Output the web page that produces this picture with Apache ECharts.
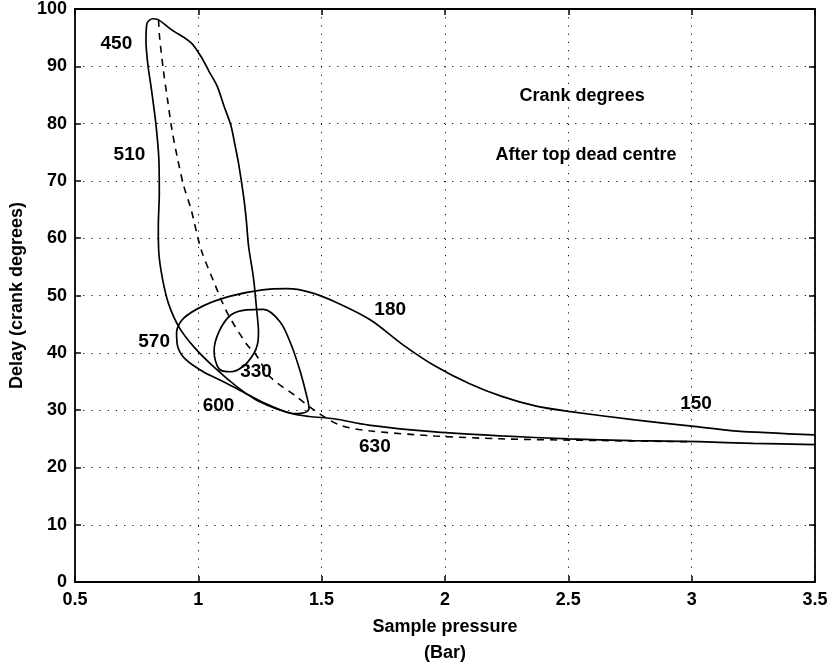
<!DOCTYPE html>
<html>
<head>
<meta charset="utf-8">
<title>Delay vs sample pressure</title>
<script src="https://cdn.jsdelivr.net/npm/echarts@6/dist/echarts.min.js"></script>
<style>
  html, body { margin: 0; padding: 0; background: #fff; }
  #chart { width: 833px; height: 671px; }
</style>
</head>
<body>
<div id="chart"></div>
<script>
// Outer loop: upper tail (150 -> 180), over the top, round the left side and back out along the lower tail
const outerLoop = [
  [3.50, 25.7], [3.17, 26.4], [3.00, 27.2], [2.77, 28.3], [2.50, 29.8], [2.37, 30.7],
  [2.23, 32.4], [2.10, 34.6], [1.96, 37.7], [1.83, 41.4], [1.70, 45.7], [1.56, 48.8],
  [1.45, 50.6], [1.36, 51.2], [1.26, 51.0], [1.13, 49.9], [1.02, 48.2], [0.94, 46.0],
  [0.912, 43.6], [0.918, 40.9], [0.950, 38.8], [1.02, 36.7], [1.10, 35.0], [1.18, 33.2],
  [1.27, 31.2], [1.37, 29.5], [1.45, 28.9], [1.55, 28.5], [1.69, 27.4], [1.96, 26.2],
  [2.23, 25.5], [2.50, 25.0], [2.76, 24.7], [3.03, 24.5], [3.25, 24.2], [3.50, 24.0]
];

// Tall loop (450 / 510) followed by the small inner loop and teardrop (330)
const tallLoop = [
  [1.36, 29.6], [1.30, 30.5], [1.23, 31.9], [1.156, 34.1], [1.064, 37.5], [0.983, 41.0],
  [0.923, 44.4], [0.880, 48.5], [0.855, 52.9], [0.840, 57.5], [0.838, 62.0], [0.842, 68.0],
  [0.840, 74.0], [0.828, 80.0], [0.810, 86.0], [0.795, 90.5], [0.788, 94.5], [0.792, 97.5],
  [0.815, 98.3], [0.839, 98.1], [0.891, 96.4], [0.971, 94.1], [1.011, 91.7], [1.045, 89.0],
  [1.076, 86.6], [1.105, 83.0], [1.132, 79.7], [1.150, 76.0], [1.164, 72.9], [1.184, 67.2],
  [1.195, 63.0], [1.204, 58.6], [1.224, 53.0], [1.236, 47.8], [1.244, 43.7], [1.240, 41.5],
  [1.224, 39.8], [1.184, 37.7], [1.132, 36.7], [1.084, 37.2], [1.064, 40.3], [1.084, 43.7],
  [1.132, 46.6], [1.196, 47.5], [1.264, 47.6], [1.332, 45.4], [1.376, 41.5], [1.413, 36.8],
  [1.437, 32.9], [1.449, 30.3], [1.433, 29.6], [1.39, 29.4], [1.34, 29.9]
];

// Dashed mean path
const meanPath = [
  [0.839, 98.1], [0.843, 95.2], [0.858, 89.5], [0.875, 84.3], [0.893, 79.0], [0.915, 74.1],
  [0.940, 69.3], [0.971, 65.0], [1.011, 58.1], [1.064, 52.3], [1.116, 47.1], [1.196, 41.5],
  [1.232, 39.8], [1.292, 35.8], [1.397, 32.4], [1.477, 29.8], [1.573, 27.4], [1.693, 26.4],
  [1.958, 25.5], [2.227, 25.0], [2.628, 24.7], [2.989, 24.5]
];

const xTickLabels = ['0.5', '1', '1.5', '2', '2.5', '3', '3.5'];
const yTickLabels = ['0', '10', '20', '30', '40', '50', '60', '70', '80', '90', '100'];
const crankAngles = ['150', '180', '330', '450', '510', '570', '600', '630'];

const FONT = '"Liberation Sans", Arial, Helvetica, sans-serif';

const chart = echarts.init(document.getElementById('chart'), null, { renderer: 'canvas' });

const gridLine = { show: true, lineStyle: { color: '#111', width: 1, type: [1.2, 7] } };
const axisLine = { show: true, onZero: false, lineStyle: { color: '#000', width: 1.8 } };
const tick = { show: true, inside: true, length: 6, lineStyle: { color: '#000', width: 1.5 } };

function xLabel(v) {
  const i = Math.round((v - 0.5) / 0.5);
  return xTickLabels[i] !== undefined ? xTickLabels[i] : '';
}
function yLabel(v) {
  const i = Math.round(v / 10);
  return yTickLabels[i] !== undefined ? yTickLabels[i] : '';
}

// Curve labels placed in data coordinates
const labelPositions = {
  '150': [3.02, 31.0], '180': [1.78, 47.5], '330': [1.236, 36.7], '450': [0.67, 93.8],
  '510': [0.723, 74.4], '570': [0.823, 41.8], '600': [1.084, 30.7], '630': [1.718, 23.6]
};
const labelData = crankAngles.map(a => ({ name: a, value: labelPositions[a] }));

const textLabel = size => ({
  show: true, position: [0, 0], align: 'center', verticalAlign: 'middle',
  formatter: '{b}', color: '#000', opacity: 1,
  fontFamily: FONT, fontWeight: 'bold', fontSize: size
});

const option = {
  animation: false,
  backgroundColor: '#fff',
  grid: { left: 70, right: 18, top: 8, bottom: 79, containLabel: false },
  xAxis: [
    {
      type: 'value', min: 0.5, max: 3.5, interval: 0.5, position: 'bottom',
      axisLine, axisTick: tick, splitLine: gridLine,
      axisLabel: { formatter: xLabel, color: '#000', fontFamily: FONT, fontWeight: 'bold', fontSize: 18, margin: 9 },
      name: 'Sample pressure\n(Bar)', nameLocation: 'middle', nameGap: 29,
      nameTextStyle: { color: '#000', fontFamily: FONT, fontWeight: 'bold', fontSize: 18, lineHeight: 26, verticalAlign: 'top' }
    },
    {
      type: 'value', min: 0.5, max: 3.5, interval: 0.5, position: 'top',
      axisLine, axisTick: tick, splitLine: { show: false }, axisLabel: { show: false }
    }
  ],
  yAxis: [
    {
      type: 'value', min: 0, max: 100, interval: 10, position: 'left',
      axisLine, axisTick: tick, splitLine: gridLine,
      axisLabel: { formatter: yLabel, color: '#000', fontFamily: FONT, fontWeight: 'bold', fontSize: 18, margin: 8 },
      name: 'Delay (crank degrees)', nameLocation: 'middle', nameGap: 45, nameRotate: 90,
      nameTextStyle: { color: '#000', fontFamily: FONT, fontWeight: 'bold', fontSize: 18 }
    },
    {
      type: 'value', min: 0, max: 100, interval: 10, position: 'right',
      axisLine, axisTick: tick, splitLine: { show: false }, axisLabel: { show: false }
    }
  ],
  series: [
    {
      name: 'outer', type: 'line', data: outerLoop, symbol: 'none', smooth: 0.3,
      lineStyle: { color: '#000', width: 1.7 }
    },
    {
      name: 'tall', type: 'line', data: tallLoop, symbol: 'none', smooth: 0.3,
      lineStyle: { color: '#000', width: 1.7 }
    },
    {
      name: 'mean', type: 'line', data: meanPath, symbol: 'none', smooth: 0.3,
      lineStyle: { color: '#000', width: 1.6, type: [7, 6] }
    },
    {
      name: 'angles', type: 'scatter', data: labelData, symbolSize: 1, silent: true, z: 5,
      itemStyle: { opacity: 0 },
      label: textLabel(19)
    },
    {
      name: 'captions', type: 'scatter', symbolSize: 1, silent: true, z: 5,
      itemStyle: { opacity: 0 },
      data: [
        { name: 'Crank degrees', value: [2.558, 84.8] },
        { name: 'After top dead centre', value: [2.574, 74.5] }
      ],
      label: textLabel(18)
    }
  ]
};

chart.setOption(option);
</script>
</body>
</html>
